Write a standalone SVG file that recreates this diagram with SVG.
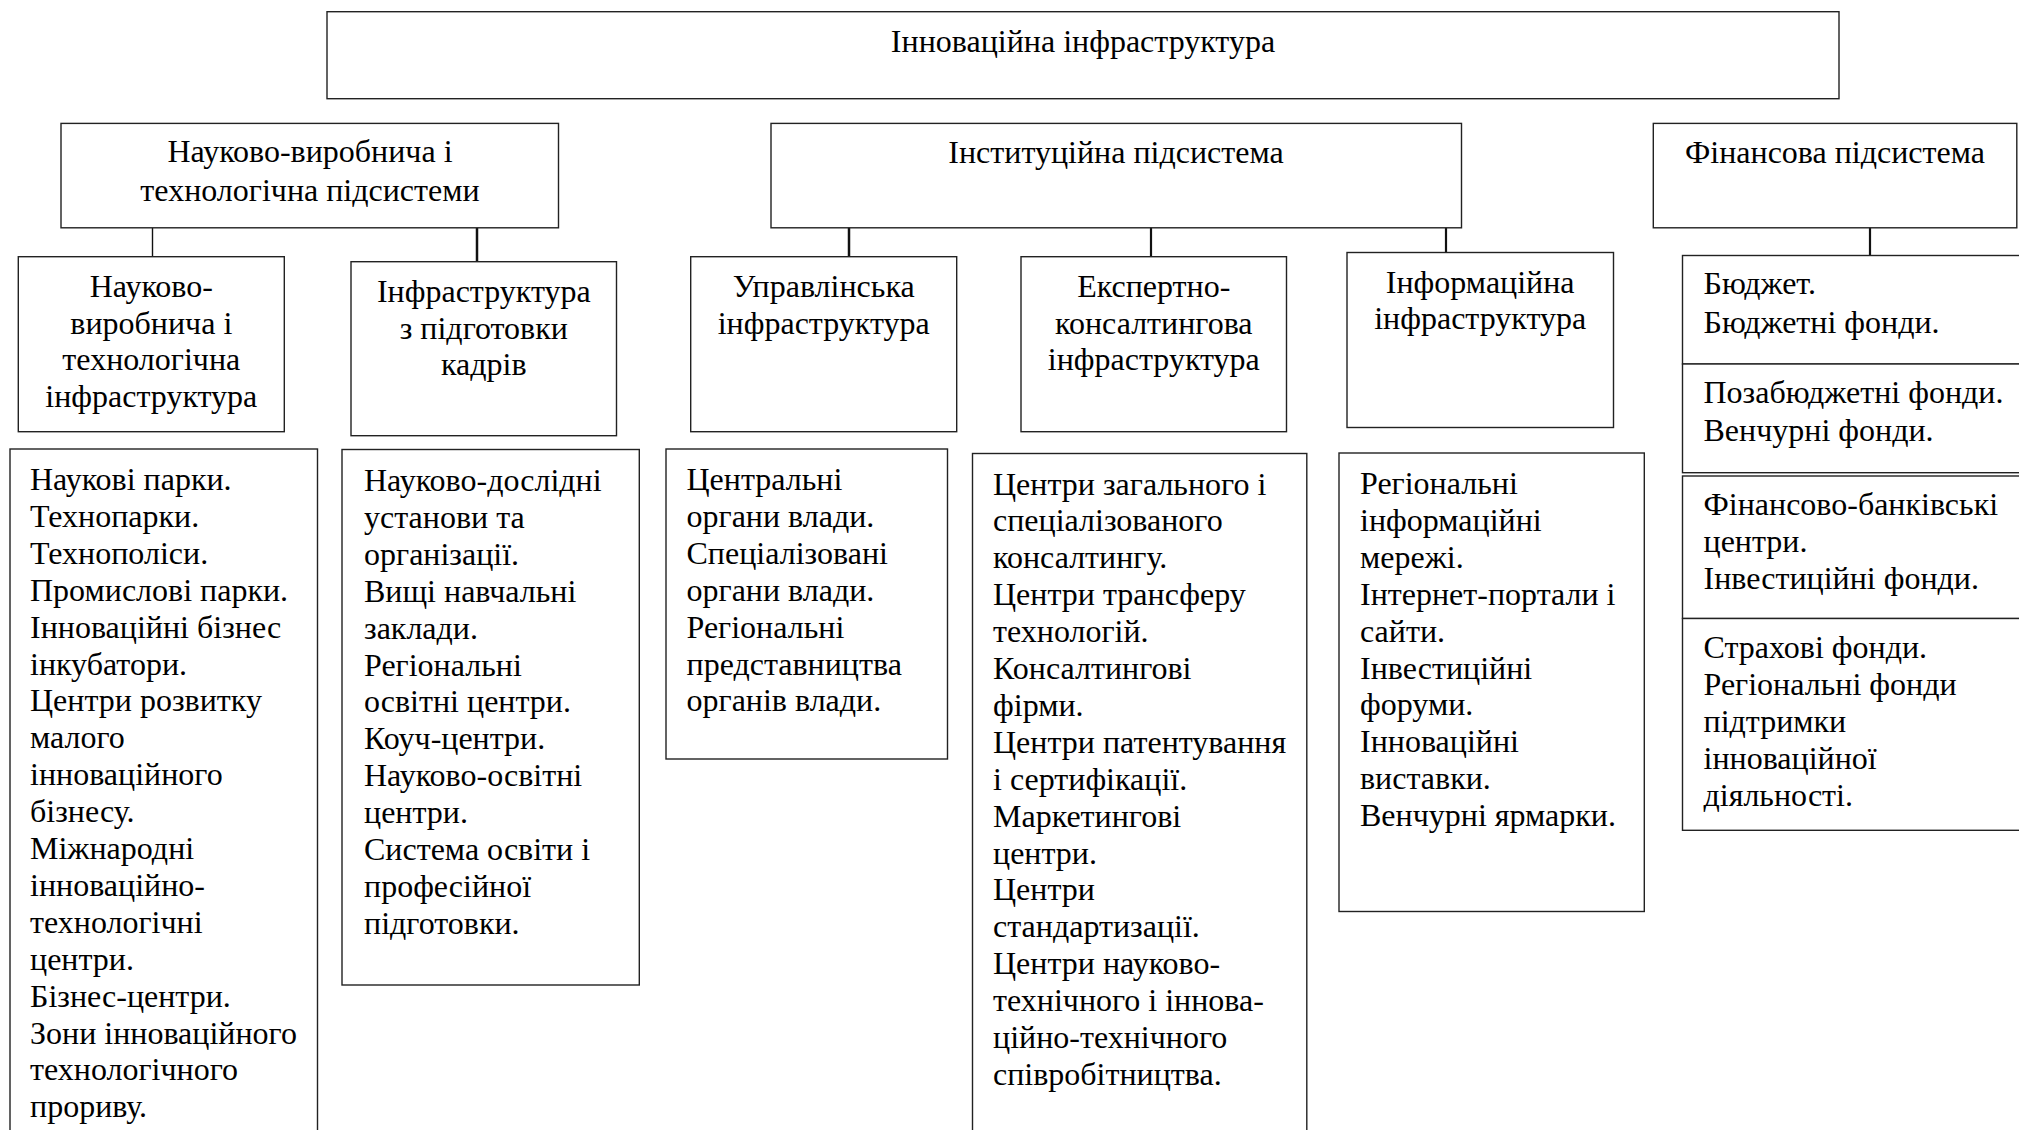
<svg xmlns="http://www.w3.org/2000/svg" width="2019" height="1130" viewBox="0 0 2019 1130">
<style>
.b{fill:#fff;stroke:#222;stroke-width:1.4}
.t{font-family:"Liberation Serif","Times New Roman",serif;font-size:32px;fill:#000}
.m{text-anchor:middle}
.k{stroke:#111;fill:none}
</style>
<rect width="2019" height="1130" fill="#fff"/>
<g id="connectors">
<line class="k" x1="152.5" y1="228" x2="152.5" y2="257" stroke-width="1.4"/>
<line class="k" x1="477" y1="228" x2="477" y2="263" stroke-width="2.5"/>
<line class="k" x1="849" y1="224" x2="849" y2="262" stroke-width="2.5"/>
<line class="k" x1="1151" y1="220" x2="1151" y2="257" stroke-width="2.2"/>
<line class="k" x1="1446" y1="222" x2="1446" y2="258" stroke-width="2.2"/>
<line class="k" x1="1870" y1="219" x2="1870" y2="256" stroke-width="2.2"/>
</g>
<g id="root">
<rect class="b" x="327" y="11.7" width="1512" height="87"/>
<text class="t m" x="1083" y="51.6">Інноваційна інфраструктура</text>
</g>
<g id="sub-science">
<rect class="b" x="61" y="123.4" width="497.5" height="104.4"/>
<text class="t m" x="310" y="161.7">Науково-виробнича і<tspan x="310" dy="39.5">технологічна підсистеми</tspan></text>
</g>
<g id="sub-institutional">
<rect class="b" x="771" y="123.4" width="690.5" height="104.4"/>
<text class="t m" x="1116" y="162.5">Інституційна підсистема</text>
</g>
<g id="sub-finance">
<rect class="b" x="1653.3" y="123.4" width="363.5" height="104.4"/>
<text class="t m" x="1835" y="162.5">Фінансова підсистема</text>
</g>
<g id="infra-science">
<rect class="b" x="18.3" y="256.7" width="266" height="175"/>
<text class="t m" x="151.3" y="296.7">Науково-<tspan x="151.3" dy="36.8">виробнича і</tspan><tspan x="151.3" dy="36.8">технологічна</tspan><tspan x="151.3" dy="36.8">інфраструктура</tspan></text>
</g>
<g id="infra-training">
<rect class="b" x="351" y="261.7" width="265.5" height="174"/>
<text class="t m" x="483.8" y="301.7">Інфраструктура<tspan x="483.8" dy="36.8">з підготовки</tspan><tspan x="483.8" dy="36.8">кадрів</tspan></text>
</g>
<g id="infra-management">
<rect class="b" x="690.7" y="256.7" width="266" height="175"/>
<text class="t m" x="823.7" y="296.7">Управлінська<tspan x="823.7" dy="36.8">інфраструктура</tspan></text>
</g>
<g id="infra-expert">
<rect class="b" x="1021" y="256.7" width="265.5" height="175"/>
<text class="t m" x="1153.8" y="296.7">Експертно-<tspan x="1153.8" dy="36.8">консалтингова</tspan><tspan x="1153.8" dy="36.8">інфраструктура</tspan></text>
</g>
<g id="infra-info">
<rect class="b" x="1347" y="252.5" width="266.5" height="175"/>
<text class="t m" x="1480.2" y="292.5">Інформаційна<tspan x="1480.2" dy="36.8">інфраструктура</tspan></text>
</g>
<g id="list-science">
<rect class="b" x="10" y="449" width="307.5" height="700"/>
<text class="t" x="30" y="490">Наукові парки.<tspan x="30" dy="36.9">Технопарки.</tspan><tspan x="30" dy="36.9">Технополіси.</tspan><tspan x="30" dy="36.9">Промислові парки.</tspan><tspan x="30" dy="36.9">Інноваційні бізнес</tspan><tspan x="30" dy="36.9">інкубатори.</tspan><tspan x="30" dy="36.9">Центри розвитку</tspan><tspan x="30" dy="36.9">малого</tspan><tspan x="30" dy="36.9">інноваційного</tspan><tspan x="30" dy="36.9">бізнесу.</tspan><tspan x="30" dy="36.9">Міжнародні</tspan><tspan x="30" dy="36.9">інноваційно-</tspan><tspan x="30" dy="36.9">технологічні</tspan><tspan x="30" dy="36.9">центри.</tspan><tspan x="30" dy="36.9">Бізнес-центри.</tspan><tspan x="30" dy="36.9">Зони інноваційного</tspan><tspan x="30" dy="36.9">технологічного</tspan><tspan x="30" dy="36.9">прориву.</tspan></text>
</g>
<g id="list-training">
<rect class="b" x="342" y="449.5" width="297.3" height="535.5"/>
<text class="t" x="364" y="491">Науково-дослідні<tspan x="364" dy="36.9">установи та</tspan><tspan x="364" dy="36.9">організації.</tspan><tspan x="364" dy="36.9">Вищі навчальні</tspan><tspan x="364" dy="36.9">заклади.</tspan><tspan x="364" dy="36.9">Регіональні</tspan><tspan x="364" dy="36.9">освітні центри.</tspan><tspan x="364" dy="36.9">Коуч-центри.</tspan><tspan x="364" dy="36.9">Науково-освітні</tspan><tspan x="364" dy="36.9">центри.</tspan><tspan x="364" dy="36.9">Система освіти і</tspan><tspan x="364" dy="36.9">професійної</tspan><tspan x="364" dy="36.9">підготовки.</tspan></text>
</g>
<g id="list-management">
<rect class="b" x="666" y="449" width="281.5" height="310"/>
<text class="t" x="686.5" y="490">Центральні<tspan x="686.5" dy="36.9">органи влади.</tspan><tspan x="686.5" dy="36.9">Спеціалізовані</tspan><tspan x="686.5" dy="36.9">органи влади.</tspan><tspan x="686.5" dy="36.9">Регіональні</tspan><tspan x="686.5" dy="36.9">представництва</tspan><tspan x="686.5" dy="36.9">органів влади.</tspan></text>
</g>
<g id="list-expert">
<rect class="b" x="972.5" y="453.5" width="334.3" height="700"/>
<text class="t" x="993" y="494.5">Центри загального і<tspan x="993" dy="36.9">спеціалізованого</tspan><tspan x="993" dy="36.9">консалтингу.</tspan><tspan x="993" dy="36.9">Центри трансферу</tspan><tspan x="993" dy="36.9">технологій.</tspan><tspan x="993" dy="36.9">Консалтингові</tspan><tspan x="993" dy="36.9">фірми.</tspan><tspan x="993" dy="36.9">Центри патентування</tspan><tspan x="993" dy="36.9">і сертифікації.</tspan><tspan x="993" dy="36.9">Маркетингові</tspan><tspan x="993" dy="36.9">центри.</tspan><tspan x="993" dy="36.9">Центри</tspan><tspan x="993" dy="36.9">стандартизації.</tspan><tspan x="993" dy="36.9">Центри науково-</tspan><tspan x="993" dy="36.9">технічного і іннова-</tspan><tspan x="993" dy="36.9">ційно-технічного</tspan><tspan x="993" dy="36.9">співробітництва.</tspan></text>
</g>
<g id="list-info">
<rect class="b" x="1339" y="453" width="305.3" height="458.5"/>
<text class="t" x="1360" y="494">Регіональні<tspan x="1360" dy="36.9">інформаційні</tspan><tspan x="1360" dy="36.9">мережі.</tspan><tspan x="1360" dy="36.9">Інтернет-портали і</tspan><tspan x="1360" dy="36.9">сайти.</tspan><tspan x="1360" dy="36.9">Інвестиційні</tspan><tspan x="1360" dy="36.9">форуми.</tspan><tspan x="1360" dy="36.9">Інноваційні</tspan><tspan x="1360" dy="36.9">виставки.</tspan><tspan x="1360" dy="36.9">Венчурні ярмарки.</tspan></text>
</g>
<g id="fin-budget">
<rect class="b" x="1682.5" y="255.5" width="337.5" height="108.5"/>
<text class="t" x="1703.5" y="294.3">Бюджет.<tspan x="1703.5" dy="38.4">Бюджетні фонди.</tspan></text>
</g>
<g id="fin-extra">
<rect class="b" x="1682.5" y="364" width="337.5" height="108.7"/>
<text class="t" x="1703.5" y="403.3">Позабюджетні фонди.<tspan x="1703.5" dy="37.4">Венчурні фонди.</tspan></text>
</g>
<g id="fin-bank">
<rect class="b" x="1682.5" y="476" width="337.5" height="142.5"/>
<text class="t" x="1703.5" y="515">Фінансово-банківські<tspan x="1703.5" dy="36.7">центри.</tspan><tspan x="1703.5" dy="37.6">Інвестиційні фонди.</tspan></text>
</g>
<g id="fin-insurance">
<rect class="b" x="1682.5" y="618.5" width="337.5" height="211.8"/>
<text class="t" x="1703.5" y="658.3">Страхові фонди.<tspan x="1703.5" dy="37">Регіональні фонди</tspan><tspan x="1703.5" dy="37">підтримки</tspan><tspan x="1703.5" dy="37">інноваційної</tspan><tspan x="1703.5" dy="37">діяльності.</tspan></text>
</g>
</svg>
